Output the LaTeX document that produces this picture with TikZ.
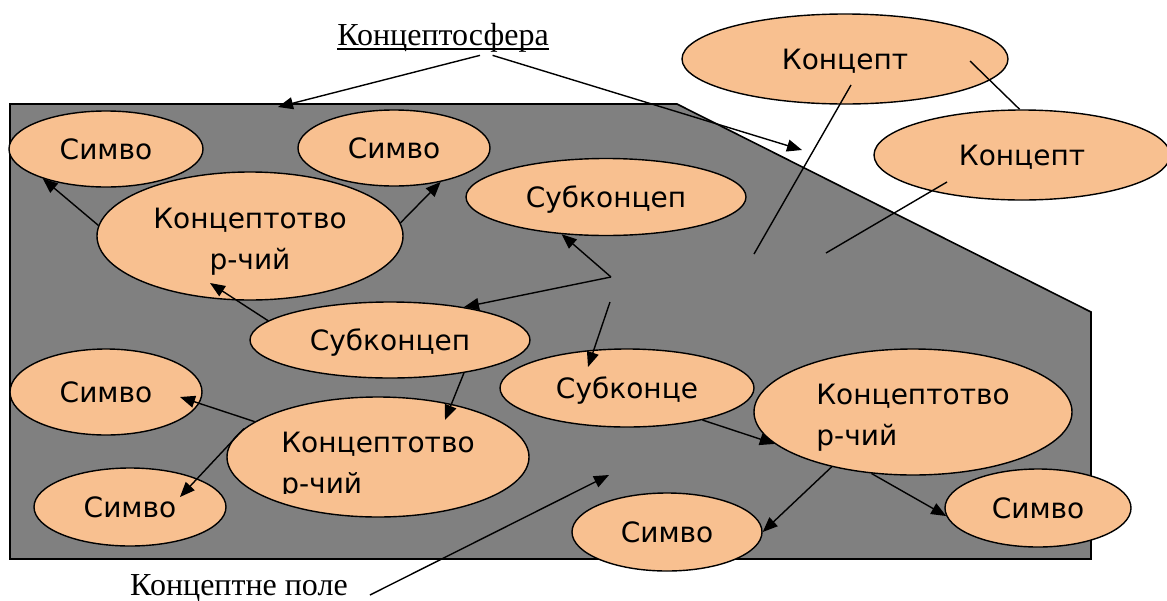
\documentclass[tikz,border=0pt]{standalone}
\usepackage{fontspec}
\setmainfont{Liberation Serif}
\newfontfamily\gothic{DejaVu Sans}
\usepackage{trimclip}
\usetikzlibrary{arrows.meta,shapes.geometric}
\definecolor{Peach}{RGB}{248,192,144}
\definecolor{FieldGray}{RGB}{128,128,128}
\newcommand{\ktstrut}{\rule{0pt}{32pt}}

\begin{document}
\begin{tikzpicture}[
      x=1pt,y=-1pt,
      cNode/.style={ellipse,draw=black,fill=Peach,line width=1.4pt,inner sep=0pt,
                    font=\gothic\fontsize{28}{41}\selectfont,text height=20pt,text depth=0pt},
      tNode/.style={ellipse,draw=black,fill=Peach,line width=1.4pt,inner sep=0pt,
                    font=\gothic\fontsize{28}{41}\selectfont,align=center},
      lNode/.style={font=\fontsize{32}{36}\selectfont,inner xsep=0pt},
      ar/.style={-{Triangle[length=15pt,width=12pt]},line width=1.4pt},
      ln/.style={line width=1.4pt}
    ]
    \clip (0,0) rectangle (1167,600);

    % Concept field
    \draw[line width=1.6pt,fill=FieldGray] (10,104) -- (677,104) -- (1091,312) -- (1091,559) -- (10,559) -- cycle;

    % Labels
    \node(sphere)[lNode,anchor=base] at (443,45) {Концептосфера};
    \draw[line width=1.6pt] ([yshift=-4pt]sphere.base west) -- ([yshift=-4pt]sphere.base east);
    \node(field)[lNode,anchor=base] at (239,595) {Концептне поле};

    % Top row
    \node(sA)[cNode,minimum width=194pt,minimum height=76pt] at (106,149) {Симво};
    \node(sB)[cNode,minimum width=192pt,minimum height=76pt] at (394,148) {Симво};
    \node(kt1)[tNode,minimum width=306pt,minimum height=128pt] at (250,236) {\ktstrut Концептотво\\р-чий};
    \node(sub1)[cNode,minimum width=280pt,minimum height=77pt] at (606,197) {Субконцеп};
    \node(k1)[cNode,minimum width=326pt,minimum height=90pt] at (845,59) {Концепт};
    \node(k2)[cNode,minimum width=296pt,minimum height=90pt] at (1022,155) {Концепт};

    % Middle and bottom rows
    \node(sub2)[cNode,minimum width=280pt,minimum height=76pt] at (390,340) {Субконцеп};
    \node(sC)[cNode,minimum width=192pt,minimum height=86pt] at (106,392) {Симво};
    \node(sub3)[cNode,minimum width=254pt,minimum height=78pt] at (627,388) {Субконце};
    \node(kt2)[tNode,align=left,minimum width=302pt,minimum height=120pt] at (378,457)
      {\ktstrut Концептотво\\\clipbox{0pt 6pt 0pt 0pt}{р-чий}};
    \node(sD)[cNode,minimum width=192pt,minimum height=78pt] at (130,507) {Симво};
    \node(kt3)[tNode,align=left,minimum width=318pt,minimum height=126pt] at (913,412) {\ktstrut Концептотво\\р-чий};
    \node(sE)[cNode,minimum width=190pt,minimum height=78pt] at (667,532) {Симво};
    \node(sF)[cNode,minimum width=186pt,minimum height=78pt] at (1038,508) {Симво};

    % Free ends
    \coordinate (tL) at (278,107);
    \coordinate (tR) at (802,150);
    \coordinate (m1) at (754,254);
    \coordinate (m2) at (826,253);
    \coordinate (fA) at (611,277);
    \coordinate (fB) at (610,302);
    \coordinate (fC) at (609,475);

    % Sphere pointers
    \draw[ar] (sphere.-26) -- (tL);
    \draw[ar] (sphere.-20) -- (tR);

    % Concept links
    \draw[ln] ([shift={(6,26)}]k1.center) -- (m1);
    \draw[ln] ([shift={(125,2)}]k1.center) -- (k2.93);
    \draw[ln] ([shift={(-75,27)}]k2.center) -- (m2);

    % Field arrows
    \draw[ar] (kt1.176) -- (sA.205);
    \draw[ar] (kt1.5) -- (sB.324);
    \draw[ar] (sub2.171) -- ([shift={(-40,47)}]kt1.center);
    \draw[ar] (fA) -- (sub1.220);
    \draw[ar] (fA) -- (sub2.24);
    \draw[ar] (fB) -- ([shift={(-39,-21)}]sub3.center);
    \draw[ar] (sub2.336) -- ([shift={(67,-37)}]kt2.center);
    \draw[ar] (kt2.164) -- ([shift={(74,5)}]sC.center);
    \draw[ar] (kt2.168) -- ([shift={(50,-10)}]sD.center);
    \draw[ar] (sub3.337) -- (kt3.193);
    \draw[ar] (kt3.214) -- (sE.east);
    \draw[ar] (kt3.236) -- (sF.185);
    \draw[ar] ([xshift=22pt]field.base east) -- (fC);
  \end{tikzpicture}
\end{document}
